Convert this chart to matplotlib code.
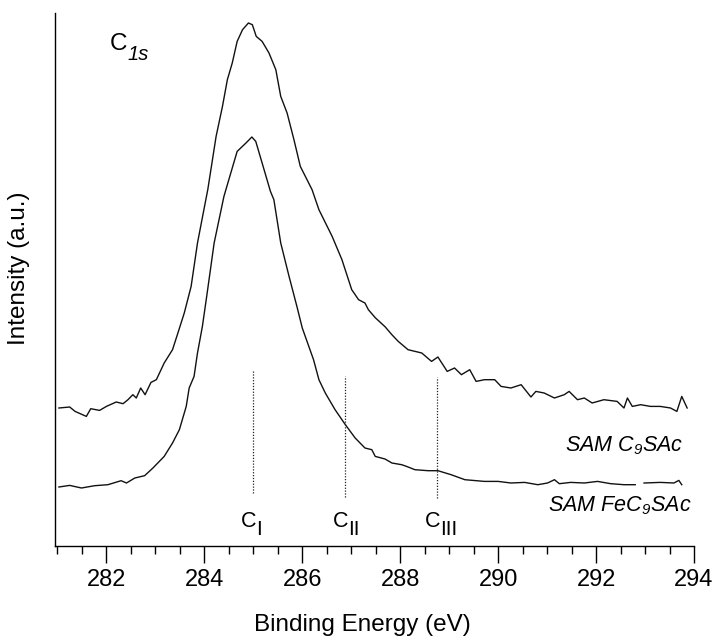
import numpy as np
import matplotlib
matplotlib.use('Agg')
import matplotlib.pyplot as plt
from matplotlib.ticker import MultipleLocator

plt.rcParams['font.family'] = ['Liberation Sans', 'DejaVu Sans']
plt.rcParams['mathtext.fontset'] = 'custom'
plt.rcParams['mathtext.rm'] = 'Liberation Sans:italic'
plt.rcParams['mathtext.it'] = 'Liberation Sans:italic'

# SAM C9SAc (upper trace), binding energy in eV / intensity in a.u.
be_c9 = [281.03, 281.25, 281.36, 281.59, 281.68, 281.86, 282.00, 282.20, 282.34, 282.44,
         282.54, 282.61, 282.70, 282.79, 282.91, 283.02, 283.18, 283.35, 283.46, 283.59,
         283.73, 283.86, 284.03, 284.07, 284.24, 284.37, 284.47, 284.57, 284.67, 284.78,
         284.90, 284.98, 285.06, 285.18, 285.32, 285.46, 285.56, 285.69, 285.83, 285.96,
         286.20, 286.34, 286.61, 286.81, 287.01, 287.15, 287.28, 287.35, 287.49, 287.69,
         287.83, 287.96, 288.16, 288.44, 288.64, 288.77, 288.96, 289.11, 289.25, 289.42,
         289.55, 289.72, 289.93, 290.06, 290.26, 290.47, 290.67, 290.77, 290.94, 291.15,
         291.35, 291.45, 291.62, 291.76, 291.92, 292.16, 292.43, 292.57, 292.64, 292.74,
         292.91, 293.11, 293.31, 293.52, 293.65, 293.75, 293.86]
int_c9 = [137.7, 138.7, 134.3, 129.3, 137.0, 135.3, 139.3, 143.7, 142.0, 146.0,
          151.0, 147.7, 157.7, 151.0, 163.3, 166.0, 182.7, 196.0, 212.7, 232.7,
          259.3, 302.7, 346.0, 356.0, 409.3, 439.3, 466.0, 482.7, 504.3, 516.0,
          522.7, 521.0, 509.3, 504.3, 492.7, 476.0, 449.3, 432.7, 406.0, 379.3,
          356.0, 336.0, 309.3, 286.0, 256.0, 246.0, 242.7, 236.0, 228.0, 219.0,
          211.0, 204.3, 196.0, 192.7, 184.3, 188.7, 174.3, 177.7, 171.0, 176.0,
          164.3, 166.0, 166.0, 159.3, 157.7, 161.0, 148.7, 154.3, 152.7, 147.7,
          151.0, 154.3, 146.0, 147.7, 142.7, 146.0, 144.3, 137.7, 147.7, 139.3,
          141.0, 139.3, 139.3, 137.7, 134.3, 149.3, 137.7]

# SAM FeC9SAc (lower trace)
be_fe = [281.03, 281.25, 281.49, 281.76, 282.03, 282.30, 282.41, 282.58, 282.78, 282.95,
         283.18, 283.35, 283.49, 283.63, 283.69, 283.79, 283.86, 283.96, 284.05, 284.20,
         284.40, 284.54, 284.67, 284.85, 284.97, 285.05, 285.18, 285.35, 285.42, 285.56,
         285.73, 285.89, 286.00, 286.23, 286.34, 286.47, 286.67, 286.88, 287.08, 287.28,
         287.42, 287.49, 287.69, 287.83, 288.03, 288.13, 288.30, 288.57, 288.77, 289.04,
         289.32, 289.72, 290.00, 290.26, 290.54, 290.81, 291.01, 291.15, 291.25, 291.48,
         291.76, 292.03, 292.30, 292.57, 292.80, 292.89, 292.98, 293.31, 293.59, 293.69,
         293.75]
int_fe = [58.7, 60.3, 57.7, 60.0, 61.0, 65.0, 62.7, 67.7, 70.0, 77.7,
          89.3, 102.7, 116.0, 139.3, 157.7, 169.3, 192.7, 219.3, 250.0, 302.7,
          349.3, 372.7, 394.3, 402.7, 408.7, 404.3, 382.7, 354.3, 346.0, 302.7,
          269.3, 239.3, 217.7, 186.0, 166.0, 152.7, 136.0, 121.0, 107.7, 97.7,
          96.0, 89.3, 86.7, 82.7, 81.0, 79.3, 76.0, 75.0, 75.0, 71.0,
          66.0, 64.3, 64.3, 62.7, 63.3, 61.0, 62.7, 66.0, 62.0, 63.3,
          62.7, 64.3, 62.0, 61.0, 61.0, np.nan, 62.7, 63.3, 62.7, 65.3,
          61.0]

# component positions (dotted markers)
comp_be = [285.0, 286.88, 288.76]
comp_lo = [52.7, 49.0, 47.7]
comp_hi = [174.3, 170.0, 168.7]
comp_sub = ['I', 'II', 'III']

fig = plt.figure(figsize=(7.15, 6.36), dpi=100)
ax = fig.add_axes([55/715, 90.3/636, 639/715, 533/636])

ax.plot(be_c9, int_c9, color='#111111', lw=1.0)
ax.plot(be_fe, int_fe, color='#111111', lw=1.0)
ax.vlines(comp_be, comp_lo, comp_hi, colors='#222222', linestyles=(0, (1, 1.3)), lw=0.9)

for x, s in zip(comp_be, comp_sub):
    ax.text(x - 0.1, 19, 'C', fontsize=15.5, ha='center', va='baseline')
    ax.text(x + 0.05, 11, s, fontsize=15, ha='left', va='baseline')

ax.text(282.07, 496, 'C', fontsize=17.5, ha='left', va='baseline')
ax.text(282.43, 486, '1s', fontsize=14.5, style='italic', ha='left', va='baseline')

ax.text(293.79, 94, r'SAM C$_{9}$SAc', fontsize=15.5, style='italic',
        ha='right', va='baseline')
ax.text(293.96, 34, r'SAM FeC$_{9}$SAc', fontsize=15.5, style='italic',
        ha='right', va='baseline')

ax.set_xlim(280.95, 294)
ax.set_ylim(0, 533)
ax.xaxis.set_major_locator(MultipleLocator(2))
ax.xaxis.set_minor_locator(MultipleLocator(0.5))
ax.tick_params(axis='x', which='major', direction='out', length=12, width=1, labelsize=17, pad=4.5)
ax.tick_params(axis='x', which='minor', direction='out', length=6, width=1)
ax.set_yticks([])
ax.spines['top'].set_visible(False)
ax.spines['right'].set_visible(False)
for sp in ('left', 'bottom'):
    ax.spines[sp].set_linewidth(1.0)

ax.set_xlabel('Binding Energy (eV)', fontsize=17.5)
ax.xaxis.set_label_coords(0.481, -0.128)
ax.set_ylabel('Intensity (a.u.)', fontsize=17.5)
ax.yaxis.set_label_coords(-0.039, 0.52)

fig.savefig('out.png', dpi=100)
